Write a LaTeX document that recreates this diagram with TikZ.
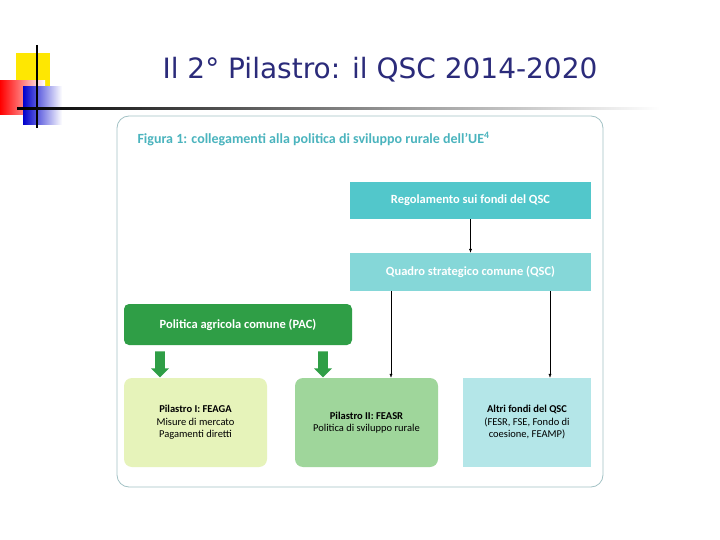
\documentclass[tikz,border=0pt]{standalone}
\usepackage{fontspec}
\setmainfont{DejaVu Sans}
\newfontfamily\capfont{Carlito}
\usetikzlibrary{arrows.meta,shapes.arrows}
\definecolor{titleblue}{HTML}{2B2B7A}
\definecolor{capteal}{HTML}{4BB4BE}
\definecolor{regteal}{HTML}{52C7CB}
\definecolor{qscteal}{HTML}{85D7D8}
\definecolor{pacgreen}{HTML}{2F9E46}
\definecolor{feagafill}{HTML}{E6F3BA}
\definecolor{feasrfill}{HTML}{9FD69B}
\definecolor{altrifill}{HTML}{B4E6E8}
\begin{document}
\begin{tikzpicture}[x=1pt,y=-1pt,
	box/.style={draw=none,minimum width=#1,align=center,font=\capfont\fontsize{10.5}{12.5}\selectfont},
	head/.style={text=white,font=\capfont\bfseries\fontsize{12.5}{14}\selectfont},
	arr/.style={-{Latex[length=4pt]},thin},
	fat/.style={draw=none,fill=pacgreen,single arrow,rotate=-90,minimum height=26pt,minimum width=18pt,single arrow head extend=3pt}]
	\useasboundingbox (0,0) rectangle (720,540);

	% logo
	\fill[yellow!90!orange] (16,53) rectangle (50,87);
	\shade[left color=red, right color=red!0] (0,81) rectangle (45,115);
	\shade[left color=blue!80!black, right color=blue!0] (23,87) rectangle (62,125);
	\draw[line width=1.5pt] (37,45) -- (37,128);
	\shade[left color=black, right color=white] (17,108) rectangle (660,110);

	\node[text=titleblue,font=\fontsize{28}{32}\selectfont] (title) at (380,70) {Il 2° Pilastro: il QSC 2014-2020};

	% frame
	\draw[draw=capteal!50!gray!60,fill=white,rounded corners=12pt,thick] (117,116) rectangle (603,487);
	\node[anchor=west,text=capteal,font=\capfont\bfseries\fontsize{14}{16}\selectfont] (cap) at (134,139) {Figura 1: collegamenti alla politica di sviluppo rurale dell’UE\textsuperscript{4}};

	\node[box=241pt,minimum height=37pt,fill=regteal,head] (reg) at (470.5,200.5) {Regolamento sui fondi del QSC};
	\node[box=241pt,minimum height=38pt,fill=qscteal,head] (qsc) at (470.5,272) {Quadro strategico comune (QSC)};
	\node[box=228pt,minimum height=41pt,fill=pacgreen,rounded corners=5pt,head] (pac) at (238,324.5) {Politica agricola comune (PAC)};

	\node[box=143pt,minimum height=89pt,fill=feagafill,rounded corners=8pt] (feaga) at (195.5,422.5) {\textbf{Pilastro I: FEAGA}\\Misure di mercato\\Pagamenti diretti};
	\node[box=143pt,minimum height=89pt,fill=feasrfill,rounded corners=8pt] (feasr) at (366.5,422.5) {\textbf{Pilastro II: FEASR}\\Politica di sviluppo rurale};
	\node[box=128pt,minimum height=89pt,fill=altrifill] (altri) at (527,422.5) {\textbf{Altri fondi del QSC}\\(FESR, FSE, Fondo di\\coesione, FEAMP)};

	\coordinate (q1) at (391,291);
	\coordinate (q2) at (550,291);
	\draw[arr] (reg) -- (qsc);
	\draw[arr] (q1) -- (q1 |- feasr.north);
	\draw[arr] (q2) -- (q2 |- altri.north);
	\node[fat] (down1) at (160,362) {};
	\node[fat] (down2) at (323,362) {};
\end{tikzpicture}
\end{document}
